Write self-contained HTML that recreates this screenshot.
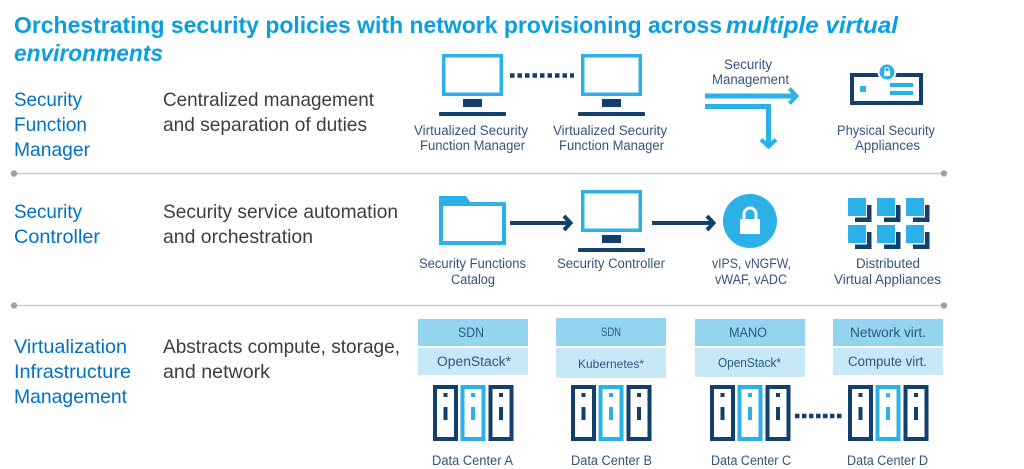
<!DOCTYPE html>
<html><head><meta charset="utf-8"><style>
html,body{margin:0;padding:0;background:#fff}
svg{display:block}
text{font-family:"Liberation Sans",sans-serif}
.t{font-size:23px;font-weight:bold;fill:#0a9fe0}
.l{font-size:19.5px;fill:#0071c5}
.d{font-size:19.5px;fill:#3a3f45}
.i{font-size:13.5px;fill:#34557f}
.b{font-size:13.5px;fill:#2c5a80}
</style></head><body>
<svg width="1024" height="469" viewBox="0 0 1024 469" xmlns="http://www.w3.org/2000/svg">
<defs>
<g id="mon"><rect x="1.75" y="1.75" width="57.5" height="38.5" fill="#fff" stroke="#2cb0e8" stroke-width="3.5"/><rect x="21" y="45" width="19" height="8" fill="#123f6d"/><rect x="-3" y="58" width="67" height="4" rx="1" fill="#123f6d"/></g>
<g id="rd"><rect x="2" y="2" width="21" height="52" fill="#fff" stroke="#123f6d" stroke-width="4"/><rect x="10.5" y="8" width="4" height="4" fill="#123f6d"/><rect x="10.5" y="22" width="4" height="13" fill="#123f6d"/></g>
<g id="rl"><rect x="2" y="2" width="21" height="52" fill="#fff" stroke="#2cb0e8" stroke-width="4"/><rect x="10.5" y="8" width="4" height="4" fill="#2cb0e8"/><rect x="10.5" y="22" width="4" height="13" fill="#2cb0e8"/></g>
<g id="rack"><use href="#rd" x="0"/><use href="#rl" x="27.5"/><use href="#rd" x="55.5"/></g>
<g id="sq"><path d="M19 7h4.5v17H7v-4.5h12z" fill="#123f6d"/><rect x="0" y="0" width="18" height="18" fill="#2cb0e8"/></g>
</defs>

<text class="t" x="14" y="33" textLength="708" lengthAdjust="spacingAndGlyphs">Orchestrating security policies with network provisioning across</text>
<text class="t" x="726" y="33" font-style="italic" textLength="172" lengthAdjust="spacingAndGlyphs">multiple virtual</text>
<text class="t" x="14" y="61" font-style="italic" textLength="149" lengthAdjust="spacingAndGlyphs">environments</text>

<text class="l" x="14" y="106" textLength="68" lengthAdjust="spacingAndGlyphs">Security</text>
<text class="l" x="14" y="131" textLength="73" lengthAdjust="spacingAndGlyphs">Function</text>
<text class="l" x="14" y="156" textLength="76" lengthAdjust="spacingAndGlyphs">Manager</text>
<text class="l" x="14" y="218" textLength="68" lengthAdjust="spacingAndGlyphs">Security</text>
<text class="l" x="14" y="243" textLength="86" lengthAdjust="spacingAndGlyphs">Controller</text>
<text class="l" x="14" y="353" textLength="113" lengthAdjust="spacingAndGlyphs">Virtualization</text>
<text class="l" x="14" y="378" textLength="117" lengthAdjust="spacingAndGlyphs">Infrastructure</text>
<text class="l" x="14" y="403" textLength="113" lengthAdjust="spacingAndGlyphs">Management</text>

<text class="d" x="163" y="106" textLength="211" lengthAdjust="spacingAndGlyphs">Centralized management</text>
<text class="d" x="163" y="131" textLength="204" lengthAdjust="spacingAndGlyphs">and separation of duties</text>
<text class="d" x="163" y="218" textLength="235" lengthAdjust="spacingAndGlyphs">Security service automation</text>
<text class="d" x="163" y="243" textLength="150" lengthAdjust="spacingAndGlyphs">and orchestration</text>
<text class="d" x="163" y="353" textLength="237" lengthAdjust="spacingAndGlyphs">Abstracts compute, storage,</text>
<text class="d" x="163" y="378" textLength="107" lengthAdjust="spacingAndGlyphs">and network</text>

<g stroke="#c9ced2" stroke-width="1.5"><line x1="14" y1="173.5" x2="944" y2="173.5"/><line x1="14" y1="305.5" x2="944" y2="305.5"/></g>
<g fill="#9aa3aa"><circle cx="14" cy="173.5" r="3.2"/><circle cx="944" cy="173.5" r="3.2"/><circle cx="14" cy="305.5" r="3.2"/><circle cx="944" cy="305.5" r="3.2"/></g>

<!-- row 1 -->
<use href="#mon" x="442" y="54"/>
<use href="#mon" x="581" y="54"/>
<line x1="510" y1="75.5" x2="574" y2="75.5" stroke="#123f6d" stroke-width="4.5" stroke-dasharray="4.5 3"/>
<text class="i" x="414" y="135" textLength="114" lengthAdjust="spacingAndGlyphs">Virtualized Security</text>
<text class="i" x="420" y="150" textLength="105" lengthAdjust="spacingAndGlyphs">Function Manager</text>
<text class="i" x="553" y="135" textLength="114" lengthAdjust="spacingAndGlyphs">Virtualized Security</text>
<text class="i" x="559" y="150" textLength="105" lengthAdjust="spacingAndGlyphs">Function Manager</text>

<text class="i" x="724" y="69" textLength="48" lengthAdjust="spacingAndGlyphs">Security</text>
<text class="i" x="712" y="84" textLength="77" lengthAdjust="spacingAndGlyphs">Management</text>
<g fill="none" stroke="#2cb0e8" stroke-width="5">
<path d="M705 96H794"/>
<path d="M705 106.5H768.500V146"/>
</g>
<g fill="none" stroke="#2cb0e8" stroke-width="4">
<path d="M789.500 88.500l7 7.500-7 7.500"/>
<path d="M761 139.500l7.500 7 7.500-7"/>
</g>
<rect x="852" y="75" width="69" height="28" fill="#fff" stroke="#123f6d" stroke-width="4"/>
<circle cx="887" cy="72" r="9.5" fill="#fff"/><circle cx="887" cy="72" r="7.5" fill="#2cb0e8"/>
<rect x="884" y="71" width="6" height="5" fill="#fff"/><path d="M885 71v-1.5a2 2 0 0 1 4 0V71" fill="none" stroke="#fff"/>
<rect x="860" y="86" width="6" height="6" fill="#2cb0e8"/>
<rect x="890" y="83" width="23" height="4" fill="#2cb0e8"/><rect x="890" y="91" width="23" height="4" fill="#2cb0e8"/>
<text class="i" x="837" y="135" textLength="98" lengthAdjust="spacingAndGlyphs">Physical Security</text>
<text class="i" x="855" y="150" textLength="65" lengthAdjust="spacingAndGlyphs">Appliances</text>

<!-- row 2 -->
<path d="M439 196h27l4 6h36v43h-67z" fill="#2cb0e8"/>
<rect x="443" y="206" width="59" height="35" fill="#fff"/>
<g fill="none" stroke="#123f6d" stroke-width="4">
<path d="M510 223H569"/><path d="M564 216l6.500 7-6.500 7"/>
<path d="M652 223H712"/><path d="M707 216l6.500 7-6.500 7"/>
</g>
<use href="#mon" x="581" y="190"/>
<circle cx="750" cy="221" r="27" fill="#2cb0e8"/>
<rect x="740" y="219" width="20" height="15" fill="#fff"/>
<path d="M744 220v-6a6 6 0 0 1 12 0v6" fill="none" stroke="#fff" stroke-width="3"/>
<use href="#sq" x="848" y="198"/><use href="#sq" x="877" y="198"/><use href="#sq" x="906" y="198"/>
<use href="#sq" x="848" y="225"/><use href="#sq" x="877" y="225"/><use href="#sq" x="906" y="225"/>
<text class="i" x="419" y="268" textLength="107" lengthAdjust="spacingAndGlyphs">Security Functions</text>
<text class="i" x="451" y="284" textLength="44" lengthAdjust="spacingAndGlyphs">Catalog</text>
<text class="i" x="557" y="268" textLength="108" lengthAdjust="spacingAndGlyphs">Security Controller</text>
<text class="i" x="712" y="268" textLength="79" lengthAdjust="spacingAndGlyphs">vIPS, vNGFW,</text>
<text class="i" x="715" y="284" textLength="72" lengthAdjust="spacingAndGlyphs">vWAF, vADC</text>
<text class="i" x="856" y="268" textLength="64" lengthAdjust="spacingAndGlyphs">Distributed</text>
<text class="i" x="834" y="284" textLength="107" lengthAdjust="spacingAndGlyphs">Virtual Appliances</text>

<!-- row 3 -->
<g fill="#93d4f1"><rect x="418" y="319" width="110" height="27"/><rect x="556" y="318" width="110" height="28"/><rect x="695" y="319" width="110" height="27"/><rect x="833" y="319" width="110" height="27"/></g>
<g fill="#c6e8f8"><rect x="418" y="348" width="110" height="27"/><rect x="556" y="348" width="110" height="30"/><rect x="695" y="348" width="110" height="29"/><rect x="833" y="348" width="110" height="27"/></g>
<text class="b" x="458" y="337" textLength="26" lengthAdjust="spacingAndGlyphs">SDN</text>
<text class="b" x="437" y="366" textLength="74" lengthAdjust="spacingAndGlyphs">OpenStack*</text>
<text class="b" x="601" y="336" style="font-size:11.5px" textLength="20" lengthAdjust="spacingAndGlyphs">SDN</text>
<text class="b" x="578" y="368" style="font-size:12px" textLength="66" lengthAdjust="spacingAndGlyphs">Kubernetes*</text>
<text class="b" x="729" y="337" textLength="38" lengthAdjust="spacingAndGlyphs">MANO</text>
<text class="b" x="718" y="367" style="font-size:12.5px" textLength="63" lengthAdjust="spacingAndGlyphs">OpenStack*</text>
<text class="b" x="850" y="337" textLength="76" lengthAdjust="spacingAndGlyphs">Network virt.</text>
<text class="b" x="848" y="366" textLength="79" lengthAdjust="spacingAndGlyphs">Compute virt.</text>

<use href="#rack" x="433" y="385"/>
<use href="#rack" x="571" y="385"/>
<use href="#rack" x="710" y="385"/>
<use href="#rack" x="848" y="385"/>
<line x1="795" y1="416" x2="844" y2="416" stroke="#123f6d" stroke-width="4.5" stroke-dasharray="4.5 2.5"/>

<text class="i" x="432" y="465" textLength="81" lengthAdjust="spacingAndGlyphs">Data Center A</text>
<text class="i" x="571" y="465" textLength="81" lengthAdjust="spacingAndGlyphs">Data Center B</text>
<text class="i" x="711" y="465" textLength="80" lengthAdjust="spacingAndGlyphs">Data Center C</text>
<text class="i" x="847" y="465" textLength="81" lengthAdjust="spacingAndGlyphs">Data Center D</text>
</svg>
</body></html>
